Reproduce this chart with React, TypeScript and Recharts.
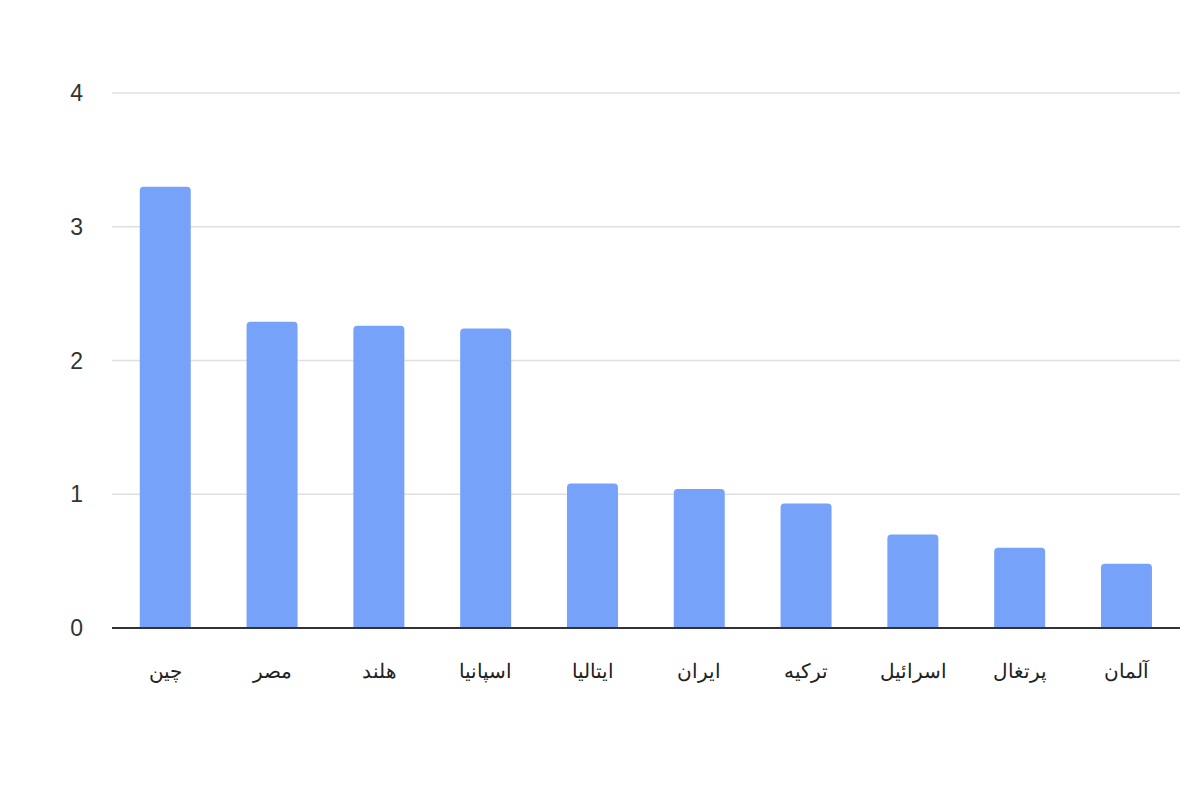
import { Bar, BarChart, CartesianGrid, XAxis, YAxis } from 'recharts'

const countries = ['چین', 'مصر', 'هلند', 'اسپانیا', 'ایتالیا', 'ایران', 'ترکیه', 'اسرائیل', 'پرتغال', 'آلمان']
const values = [3.3, 2.29, 2.26, 2.24, 1.08, 1.04, 0.93, 0.7, 0.6, 0.48]
const yTicks = [0, 1, 2, 3, 4]

const data = countries.map((name, i) => ({ name, value: values[i] }))

export default function App() {
  return (
    <div style={{ position: 'absolute', left: 0, top: 0, width: 1200, height: 800, background: '#fff', fontFamily: '"Liberation Sans", Arial, sans-serif' }}>
      <BarChart
        width={1200}
        height={800}
        data={data}
        margin={{ top: 93, right: 20, left: 0, bottom: 0 }}
        barCategoryGap="26%"
      >
        <CartesianGrid vertical={false} stroke="#e0e0e0" strokeWidth={1.5} />
        <XAxis
          dataKey="name"
          height={172}
          tickLine={false}
          tickSize={0}
          tickMargin={36}
          axisLine={{ stroke: '#333', strokeWidth: 2 }}
          tick={{ fill: '#222', fontSize: 20 }}
          interval={0}
        />
        <YAxis
          width={112}
          domain={[0, 4]}
          ticks={yTicks}
          axisLine={false}
          tickLine={false}
          tickSize={0}
          tickMargin={29}
          tick={{ fill: '#333', fontSize: 23 }}
        />
        <Bar dataKey="value" fill="#77a2f9" radius={[4, 4, 0, 0]} isAnimationActive={false} />
      </BarChart>
    </div>
  )
}
